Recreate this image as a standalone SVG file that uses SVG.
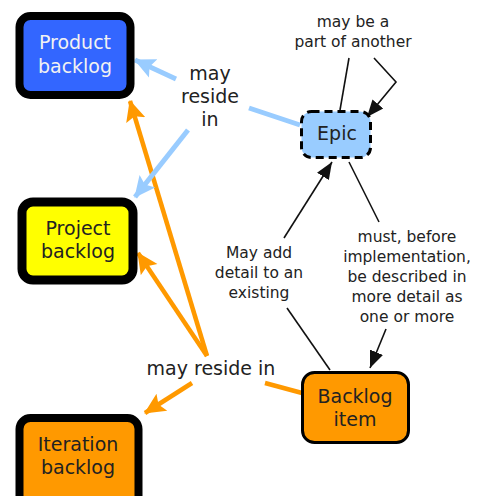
<svg xmlns="http://www.w3.org/2000/svg" width="484" height="496" viewBox="0 0 484 496">
<style>
text{font-family:"DejaVu Sans","Verdana",sans-serif;fill:#222;text-anchor:middle}
.big{font-size:19px}
.sm{font-size:15.5px}
.box{stroke:#000;stroke-width:8}
.or{stroke:#ff9900;stroke-width:4.5;fill:none}
.bl{stroke:#99ccff;stroke-width:5;fill:none}
.bk{stroke:#111;stroke-width:1.6;fill:none}
</style>
<defs>
<marker id="ao" markerUnits="userSpaceOnUse" markerWidth="22" markerHeight="22" refX="20" refY="11" orient="auto" viewBox="0 0 22 22"><path d="M0,1 L21,11 L0,21 L4,11 z" fill="#ff9900"/></marker>
<marker id="ab" markerUnits="userSpaceOnUse" markerWidth="22" markerHeight="22" refX="20" refY="11" orient="auto" viewBox="0 0 22 22"><path d="M0,1 L21,11 L0,21 L4,11 z" fill="#99ccff"/></marker>
<marker id="ak" markerUnits="userSpaceOnUse" markerWidth="18" markerHeight="16" refX="17" refY="8" orient="auto" viewBox="0 0 18 16"><path d="M0,1 L17,8 L0,15 z" fill="#111"/></marker>
</defs>
<g id="connectors">
<line class="or" x1="207" y1="356" x2="130" y2="101" marker-end="url(#ao)"/>
<line class="or" x1="207" y1="356" x2="138" y2="253" marker-end="url(#ao)"/>
<line class="or" x1="192" y1="383" x2="145" y2="413" marker-end="url(#ao)"/>
<line class="or" x1="265" y1="383" x2="302" y2="393"/>
<line class="bl" x1="300" y1="125" x2="249" y2="108"/>
<line class="bl" x1="176" y1="79" x2="135" y2="60" marker-end="url(#ab)"/>
<line class="bl" x1="188" y1="130" x2="135" y2="197" marker-end="url(#ab)"/>
<line class="bk" x1="349" y1="58" x2="340" y2="110"/>
<polyline class="bk" points="374,58 396,82 367,117" marker-end="url(#ak)"/>
<line class="bk" x1="284" y1="238" x2="332" y2="162" marker-end="url(#ak)"/>
<line class="bk" x1="349" y1="162" x2="379" y2="222"/>
<line class="bk" x1="386" y1="329" x2="370" y2="368" marker-end="url(#ak)"/>
<line class="bk" x1="287" y1="308" x2="330" y2="370"/>
</g>
<g id="product-backlog">
<rect class="box" x="19.5" y="16" width="111" height="79" rx="11" fill="#3366ff"/>
<text class="big" x="75" y="49" style="fill:#f2f2f2">Product</text>
<text class="big" x="75" y="73" style="fill:#f2f2f2">backlog</text>
</g>
<g id="project-backlog">
<rect class="box" x="22" y="202" width="111" height="78" rx="11" fill="#ffff00" style="stroke-width:9"/>
<text class="big" x="78" y="235">Project</text>
<text class="big" x="78" y="258">backlog</text>
</g>
<g id="iteration-backlog">
<rect class="box" x="19.5" y="418" width="119" height="90" rx="11" fill="#ff9900"/>
<text class="big" x="78" y="451">Iteration</text>
<text class="big" x="78" y="474">backlog</text>
</g>
<g id="epic">
<rect x="301.5" y="111.5" width="69" height="46" rx="10" fill="#99ccff" stroke="#000" stroke-width="3" stroke-dasharray="8,5"/>
<text class="big" x="337" y="140">Epic</text>
</g>
<g id="backlog-item">
<rect x="302.5" y="372.5" width="106" height="70" rx="12" fill="#ff9900" stroke="#000" stroke-width="3"/>
<text class="big" x="355" y="403">Backlog</text>
<text class="big" x="355" y="426">item</text>
</g>
<g id="labels">
<text class="big" x="210" y="80">may</text>
<text class="big" x="210" y="103">reside</text>
<text class="big" x="210" y="126">in</text>
<text class="big" x="211" y="375">may reside in</text>
<text class="sm" x="353" y="27">may be a</text>
<text class="sm" x="353" y="47">part of another</text>
<text class="sm" x="259" y="258">May add</text>
<text class="sm" x="259" y="278">detail to an</text>
<text class="sm" x="259" y="298">existing</text>
<text class="sm" x="407" y="242">must, before</text>
<text class="sm" x="407" y="262">implementation,</text>
<text class="sm" x="407" y="282">be described in</text>
<text class="sm" x="407" y="302">more detail as</text>
<text class="sm" x="407" y="322">one or more</text>
</g>
</svg>
